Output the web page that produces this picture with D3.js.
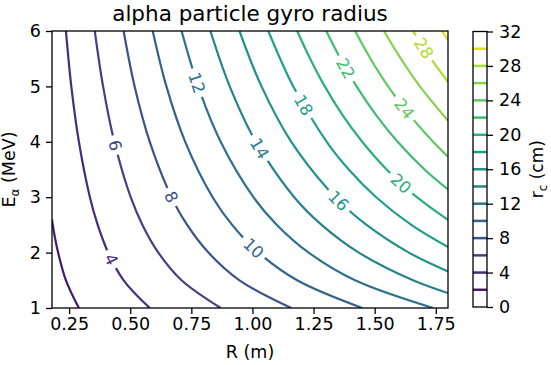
<!DOCTYPE html>
<html>
<head>
<meta charset="utf-8">
<script src="https://cdn.jsdelivr.net/npm/d3@7"></script>
<style>
  body { margin: 0; background: #fff; }
  svg { display: block; font-family: "DejaVu Sans", sans-serif; }
</style>
</head>
<body>
<div id="chart"></div>
<script>
// contour levels of the gyro radius (cm)
var levels = [2, 4, 6, 8, 10, 12, 14, 16, 18, 20, 22, 24, 26, 28, 30];

// points [R (m), E (MeV)]
var contourLines = [
  [[0.290,1],[0.237,1.5],[0.205,2],[0.183,2.5],[0.180,2.6]],
  [[0.580,1],[0.473,1.5],[0.410,2],[0.367,2.5],[0.335,3],[0.290,4],[0.259,5],[0.237,6]],
  [[0.870,1],[0.710,1.5],[0.615,2],[0.550,2.5],[0.502,3],[0.435,4],[0.389,5],[0.355,6]],
  [[1.159,1],[0.947,1.5],[0.820,2],[0.733,2.5],[0.669,3],[0.580,4],[0.518,5],[0.473,6]],
  [[1.449,1],[1.183,1.5],[1.025,2],[0.917,2.5],[0.837,3],[0.725,4],[0.648,5],[0.592,6]],
  [[1.739,1],[1.420,1.5],[1.230,2],[1.100,2.5],[1.004,3],[0.870,4],[0.778,5],[0.710,6]],
  [[1.800,1.27],[1.657,1.5],[1.435,2],[1.283,2.5],[1.171,3],[1.014,4],[0.907,5],[0.828,6]],
  [[1.800,1.66],[1.640,2],[1.467,2.5],[1.339,3],[1.159,4],[1.037,5],[0.947,6]],
  [[1.800,2.10],[1.650,2.5],[1.506,3],[1.394,3.5],[1.304,4],[1.167,5],[1.065,6]],
  [[1.800,2.59],[1.673,3],[1.549,3.5],[1.449,4],[1.366,4.5],[1.296,5],[1.236,5.5],[1.183,6]],
  [[1.800,3.14],[1.704,3.5],[1.594,4],[1.503,4.5],[1.426,5],[1.360,5.5],[1.302,6]],
  [[1.800,3.73],[1.739,4],[1.640,4.5],[1.555,5],[1.483,5.5],[1.420,6]],
  [[1.800,4.38],[1.685,5],[1.607,5.5],[1.538,6]],
  [[1.800,5.08],[1.730,5.5],[1.657,6]],
  [[1.800,5.84],[1.775,6]]
];

// energy where the inline label of each level sits (null = no label)
var labelE = [null, 1.88, 3.94, 3.0, 2.08, 5.06, 3.88, 2.94, 4.66, 3.25, 5.33, 4.6, null, 5.69, null];

var xTicks = [0.25, 0.50, 0.75, 1.00, 1.25, 1.50, 1.75];
var yTicks = [1, 2, 3, 4, 5, 6];
var cbTicks = [0, 4, 8, 12, 16, 20, 24, 28, 32];

var W = 551, H = 365;
var plot = {left: 52, right: 448, top: 31, bottom: 308};
var cb = {left: 473, right: 487, top: 31.5, bottom: 307};

var svg = d3.select('#chart').append('svg')
    .attr('width', W)
    .attr('height', H);

var x = d3.scaleLinear().domain([0.18, 1.8]).range([plot.left, plot.right]);
var y = d3.scaleLinear().domain([1, 6]).range([plot.bottom, plot.top]);
var color = d3.scaleSequential(d3.interpolateViridis).domain([0, 32]);
var cy = d3.scaleLinear().domain([0, 32]).range([cb.bottom, cb.top]);

svg.append('clipPath').attr('id', 'clip')
  .append('rect')
    .attr('x', plot.left).attr('y', plot.top)
    .attr('width', plot.right - plot.left)
    .attr('height', plot.bottom - plot.top);

var line = d3.line()
    .x(function(d) { return x(d[0]); })
    .y(function(d) { return y(d[1]); })
    .curve(d3.curveCatmullRom);

var lines = svg.append('g').attr('clip-path', 'url(#clip)');

levels.forEach(function(lev, i) {
    var path = lines.append('path')
        .attr('d', line(contourLines[i]))
        .attr('fill', 'none')
        .attr('stroke', color(lev))
        .attr('stroke-width', 2.2);

    if (labelE[i] == null) return;

    // find the spot on the path for the label
    var node = path.node();
    var total = node.getTotalLength();
    var ty = y(labelE[i]);
    var best = 0, bestD = 1e9;
    for (var s = 0; s <= total; s += 0.5) {
        var p = node.getPointAtLength(s);
        if (Math.abs(p.y - ty) < bestD) { bestD = Math.abs(p.y - ty); best = s; }
    }
    var p0 = node.getPointAtLength(Math.max(0, best - 3));
    var p1 = node.getPointAtLength(Math.min(total, best + 3));
    var pc = node.getPointAtLength(best);
    var ang = Math.atan2(p1.y - p0.y, p1.x - p0.x) * 180 / Math.PI;
    if (ang > 90) ang -= 180;
    if (ang < -90) ang += 180;

    var txt = String(lev);
    var gap = txt.length * 10 + 10;
    path.attr('stroke-dasharray', (best - gap / 2) + ' ' + gap + ' ' + total);

    svg.append('text')
        .attr('transform', 'translate(' + pc.x + ',' + pc.y + ') rotate(' + ang + ')')
        .attr('text-anchor', 'middle')
        .attr('dy', '0.36em')
        .attr('font-size', 16.5)
        .attr('fill', color(lev))
        .text(txt);
});

// frame
svg.append('rect')
    .attr('x', plot.left).attr('y', plot.top)
    .attr('width', plot.right - plot.left)
    .attr('height', plot.bottom - plot.top)
    .attr('fill', 'none')
    .attr('stroke', '#000')
    .attr('stroke-width', 1.3);

// axes
var xAxis = svg.append('g')
    .attr('transform', 'translate(0,' + plot.bottom + ')')
    .call(d3.axisBottom(x).tickValues(xTicks).tickFormat(d3.format('.2f')).tickSize(6).tickPadding(4));

var yAxis = svg.append('g')
    .attr('transform', 'translate(' + plot.left + ',0)')
    .call(d3.axisLeft(y).tickValues(yTicks).tickFormat(d3.format('d')).tickSize(6).tickPadding(5));

[xAxis, yAxis].forEach(function(a) {
    a.select('.domain').remove();
    a.selectAll('.tick line').attr('stroke', '#000').attr('stroke-width', 1.3);
    a.selectAll('.tick text').attr('font-size', 17.5).attr('fill', '#000')
        .attr('font-family', '"DejaVu Sans", sans-serif');
});

// title and axis labels
svg.append('text')
    .attr('x', (plot.left + plot.right) / 2)
    .attr('y', 21)
    .attr('text-anchor', 'middle')
    .attr('font-size', 21.5)
    .text('alpha particle gyro radius');

svg.append('text')
    .attr('x', (plot.left + plot.right) / 2)
    .attr('y', 358)
    .attr('text-anchor', 'middle')
    .attr('font-size', 17.5)
    .text('R (m)');

var yl = svg.append('text')
    .attr('transform', 'translate(15,' + ((plot.top + plot.bottom) / 2) + ') rotate(-90)')
    .attr('text-anchor', 'middle')
    .attr('font-size', 17.5);
yl.append('tspan').text('E');
yl.append('tspan').attr('font-size', 12).attr('dy', 4).text('α');
yl.append('tspan').attr('dy', -4).text(' (MeV)');

// colorbar
var cbg = svg.append('g');
cbg.selectAll('line.lev')
    .data(levels)
    .enter().append('line')
    .attr('class', 'lev')
    .attr('x1', cb.left).attr('x2', cb.right)
    .attr('y1', function(d) { return cy(d); })
    .attr('y2', function(d) { return cy(d); })
    .attr('stroke', function(d) { return color(d); })
    .attr('stroke-width', 2.5);

cbg.append('rect')
    .attr('x', cb.left).attr('y', cb.top)
    .attr('width', cb.right - cb.left)
    .attr('height', cb.bottom - cb.top)
    .attr('fill', 'none')
    .attr('stroke', '#000')
    .attr('stroke-width', 1.3);

var cbAxis = svg.append('g')
    .attr('transform', 'translate(' + cb.right + ',0)')
    .call(d3.axisRight(cy).tickValues(cbTicks).tickFormat(d3.format('d')).tickSize(6).tickPadding(6));
cbAxis.select('.domain').remove();
cbAxis.selectAll('.tick line').attr('stroke', '#000').attr('stroke-width', 1.3);
cbAxis.selectAll('.tick text').attr('font-size', 17.5).attr('fill', '#000')
    .attr('font-family', '"DejaVu Sans", sans-serif');

var cl = svg.append('text')
    .attr('transform', 'translate(543,' + ((cb.top + cb.bottom) / 2) + ') rotate(-90)')
    .attr('text-anchor', 'middle')
    .attr('font-size', 17);
cl.append('tspan').text('r');
cl.append('tspan').attr('font-size', 12).attr('dy', 4).text('c');
cl.append('tspan').attr('dy', -4).text(' (cm)');
</script>
</body>
</html>
